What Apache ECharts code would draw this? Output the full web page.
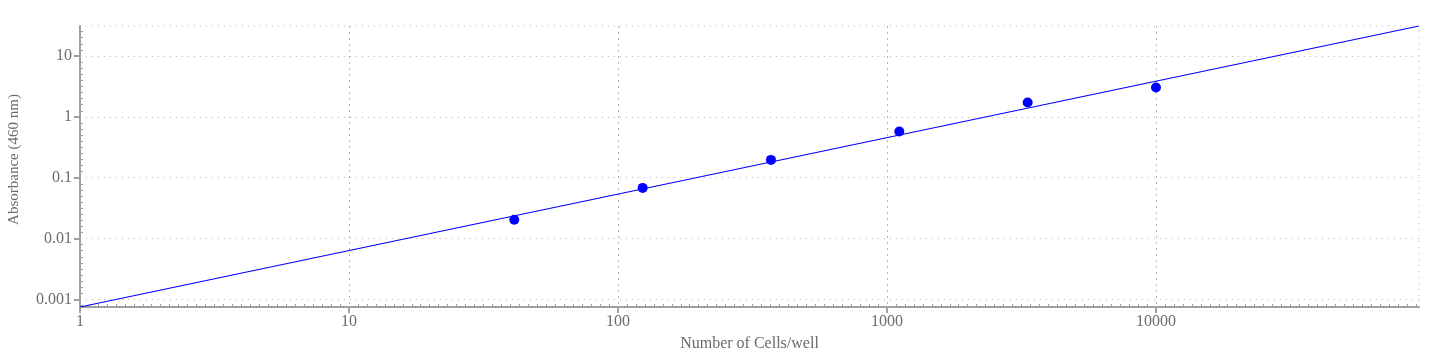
<!DOCTYPE html>
<html>
<head>
<meta charset="utf-8">
<script src="https://cdn.jsdelivr.net/npm/echarts@6/dist/echarts.min.js"></script>
<style>html,body{margin:0;padding:0;background:#fff}#c{width:1443px;height:358px}</style>
</head>
<body>
<div id="c"></div>
<script>
// Data
const cellsPerWell = [41.15, 123.5, 370.4, 1111, 3333, 10000];
const absorbance = [0.0203, 0.068, 0.196, 0.575, 1.725, 3.04];
// Fitted line endpoints (power-law fit drawn across the whole axis range)
const fitX = [1, 95000];
const fitY = [0.00075, 31.1];
const xTicks = [1, 10, 100, 1000, 10000];
const yTicks = [0.001, 0.01, 0.1, 1, 10];
const xTitle = 'Number of Cells/well';
const yTitle = 'Absorbance (460 nm)';

const xMin = fitX[0], xMax = fitX[1], yMin = fitY[0], yMax = fitY[1];

function minorValues(min, max, perDecade) {
  const out = [];
  const a = Math.floor(Math.log10(min) * perDecade), b = Math.ceil(Math.log10(max) * perDecade);
  for (let k = a; k <= b; k++) {
    if (k % perDecade === 0) continue;
    const v = Math.pow(10, k / perDecade);
    if (v > min && v < max) out.push(v);
  }
  return out;
}

const font = 'Liberation Serif, Times New Roman, serif';
const txt = '#6b6b6b';
const axisCol = '#a0a0a0';
const gridCol = '#b4b4b4';

const chart = echarts.init(document.getElementById('c'), null, {renderer: 'canvas'});
chart.setOption({
  animation: false,
  grid: {left: 80, right: 24, top: 26, bottom: 51, outerBoundsMode: 'none', containLabel: false, show: true, borderColor: gridCol, borderWidth: 1, borderType: [1, 5], backgroundColor: 'transparent'},
  xAxis: [{
    type: 'log', logBase: 10, min: xMin, max: xMax,
    name: xTitle, nameLocation: 'middle', nameGap: 29,
    nameTextStyle: {fontFamily: font, fontSize: 16, color: txt},
    axisLine: {show: true, onZero: false, lineStyle: {color: axisCol, width: 2}},
    axisTick: {show: true, customValues: xTicks, length: 6, inside: false, lineStyle: {color: axisCol, width: 2}},
    axisLabel: {customValues: xTicks, margin: 7, fontFamily: font, fontSize: 16, color: txt, formatter: v => String(v)},
    splitLine: {show: true, lineStyle: {color: gridCol, width: 1, type: [2, 4]}},
    minorTick: {show: false}
  }, {
    type: 'log', logBase: 10, min: xMin, max: xMax, position: 'bottom',
    axisLine: {show: false},
    axisTick: {show: true, customValues: minorValues(xMin, xMax, 30), length: 3, inside: true, lineStyle: {color: axisCol, width: 1}},
    axisLabel: {show: false},
    splitLine: {show: false}
  }],
  yAxis: [{
    type: 'log', logBase: 10, min: yMin, max: yMax,
    name: yTitle, nameLocation: 'middle', nameGap: 58, nameRotate: 90,
    nameTextStyle: {fontFamily: font, fontSize: 15, color: txt, padding: [0, 0, 0, 14]},
    axisLine: {show: true, onZero: false, lineStyle: {color: axisCol, width: 2}},
    axisTick: {show: true, customValues: yTicks, length: 6, inside: false, lineStyle: {color: axisCol, width: 2}},
    axisLabel: {customValues: yTicks, margin: 8, fontFamily: font, fontSize: 16, color: txt, formatter: v => String(v)},
    splitLine: {show: true, lineStyle: {color: gridCol, width: 1, type: [1, 5]}},
    minorTick: {show: false}
  }, {
    type: 'log', logBase: 10, min: yMin, max: yMax, position: 'left',
    axisLine: {show: false},
    axisTick: {show: true, customValues: minorValues(yMin, yMax, 10), length: 3, inside: true, lineStyle: {color: axisCol, width: 1}},
    axisLabel: {show: false},
    splitLine: {show: false}
  }],
  series: [{
    type: 'line', xAxisIndex: 0, yAxisIndex: 0,
    data: fitX.map((x, i) => [x, fitY[i]]),
    showSymbol: false, symbol: 'none',
    lineStyle: {color: '#0000ff', width: 1.2},
    silent: true, z: 2
  }, {
    type: 'scatter', xAxisIndex: 0, yAxisIndex: 0,
    data: cellsPerWell.map((x, i) => [x, absorbance[i]]),
    symbol: 'circle', symbolSize: 10,
    itemStyle: {color: '#0000ff', opacity: 1},
    z: 3
  }]
});
</script>
</body>
</html>
